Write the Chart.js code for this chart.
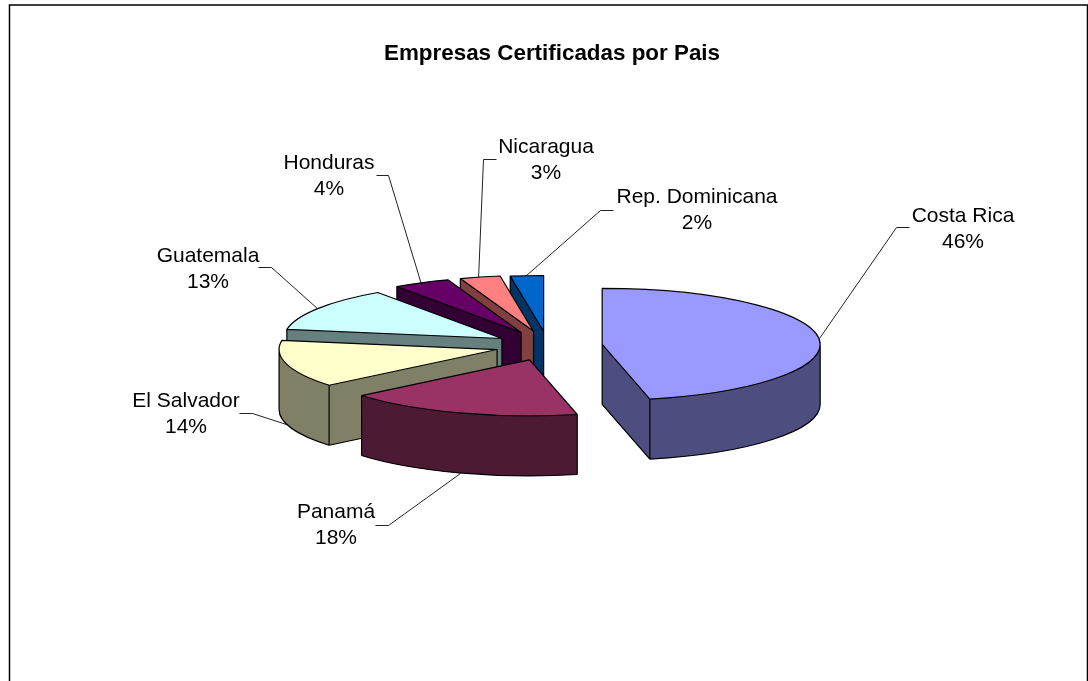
<!DOCTYPE html>
<html>
<head>
<meta charset="utf-8">
<style>html,body{margin:0;padding:0;background:#fff}canvas{display:block}</style>
<script src="https://cdn.jsdelivr.net/npm/chart.js@4/dist/chart.umd.min.js"></script>
</head>
<body>
<canvas id="c" width="1088" height="681"></canvas>
<script>
const chartTitle = 'Empresas Certificadas por Pais';
const countries = ['Costa Rica', 'Panamá', 'El Salvador', 'Guatemala', 'Honduras', 'Nicaragua', 'Rep. Dominicana'];
const shares = [46.49, 17.51, 13.6, 12.75, 4.2, 3, 2.45];

const topColors = ['#9999FF', '#993366', '#FFFFCC', '#CCFFFF', '#660066', '#FF8080', '#0066CC'];
const sideColors = ['#4D4D80', '#4D1A33', '#808066', '#668080', '#330033', '#804040', '#003366'];

const pie3d = { cx: 548, cy: 346, rx: 218, ry: 56, depth: 60 };
const explodeBy = [0.25, 0.2615, 0.242, 0.25, 0.27, 0.27, 0.26];
const paintOrder = [0, 6, 5, 4, 3, 2, 1];
const FONT = '"Liberation Sans", Arial, sans-serif';

// label centre x, first baseline y, leader polyline (one entry per country)
const labelX = [963, 336, 186, 208, 329, 546, 697];
const labelY = [222, 518, 407, 262, 169, 153, 203];
const leaders = [
  [[819, 338], [896, 227], [909, 227]],
  [[460, 473], [388, 525], [375, 525]],
  [[286, 424], [252, 413], [239, 413]],
  [[318, 309], [271, 267], [258, 267]],
  [[421, 284], [388, 175], [376, 175]],
  [[478, 279], [483, 159], [496, 159]],
  [[525, 276], [600, 210], [613, 210]]
];

const pie3dPlugin = {
  id: 'pie3d',
  beforeDraw(chart) {
    const ctx = chart.ctx;
    ctx.save();
    ctx.strokeStyle = '#000';
    ctx.lineWidth = 1.5;
    ctx.beginPath();
    ctx.moveTo(9.5, 700);
    ctx.lineTo(9.5, 5);
    ctx.lineTo(1087.5, 5);
    ctx.lineTo(1087.5, 700);
    ctx.stroke();
    ctx.restore();
  },
  beforeDatasetsDraw(chart) {
    const ctx = chart.ctx;
    const arcs = chart.getDatasetMeta(0).data;
    const total = shares.reduce((a, b) => a + b, 0);
    const P = pie3d;

    // leaders go under the pie
    ctx.save();
    ctx.strokeStyle = '#222';
    ctx.lineWidth = 1;
    leaders.forEach(l => {
      ctx.beginPath();
      l.forEach((p, i) => i ? ctx.lineTo(p[0] + .5, p[1] + .5) : ctx.moveTo(p[0] + .5, p[1] + .5));
      ctx.stroke();
    });
    ctx.restore();

    paintOrder.forEach(i => {
      const arc = arcs[i];
      const a = arc.startAngle, b = arc.endAngle, mid = (a + b) / 2, R = arc.outerRadius;
      const ax = P.cx + Math.cos(mid) * explodeBy[i] * P.rx;
      const ay = P.cy + Math.sin(mid) * explodeBy[i] * P.ry;
      const layer = (el, shift) => {
        ctx.save();
        ctx.translate(ax, ay + shift);
        ctx.scale(P.rx / R, P.ry / R);
        ctx.translate(-arc.x, -arc.y);
        el.draw(ctx);
        ctx.restore();
      };
      const side = Object.create(arc);
      side.options = Object.assign({}, arc.options, { backgroundColor: sideColors[i], borderWidth: 0 });
      for (let d = P.depth; d >= 1; d--) layer(side, d);

      const px = t => ax + P.rx * Math.cos(t), py = t => ay + P.ry * Math.sin(t);
      const vert = (x, y) => { ctx.moveTo(x, y); ctx.lineTo(x, y + P.depth); };
      const w0 = Math.max(a, 0), w1 = Math.min(b, Math.PI);
      const startVisible = Math.cos(a) < -1e-6, endVisible = Math.cos(b) > 1e-6;

      // solid fill over the layered wall and cut faces, so no stripes remain
      ctx.save();
      ctx.fillStyle = sideColors[i];
      if (w1 > w0) {
        ctx.beginPath();
        ctx.ellipse(ax, ay, P.rx, P.ry, 0, w0, w1);
        ctx.ellipse(ax, ay + P.depth, P.rx, P.ry, 0, w1, w0, true);
        ctx.closePath();
        ctx.fill();
      }
      const face = t => {
        ctx.beginPath();
        ctx.moveTo(ax, ay);
        ctx.lineTo(px(t), py(t));
        ctx.lineTo(px(t), py(t) + P.depth);
        ctx.lineTo(ax, ay + P.depth);
        ctx.closePath();
        ctx.fill();
      };
      if (startVisible) face(a);
      if (endVisible) face(b);
      ctx.restore();

      layer(arc, 0);

      ctx.save();
      ctx.strokeStyle = '#000';
      ctx.lineWidth = 1.2;
      ctx.lineJoin = 'round';
      // top face outline
      ctx.beginPath();
      ctx.moveTo(ax, ay);
      ctx.ellipse(ax, ay, P.rx, P.ry, 0, a, b);
      ctx.closePath();
      // outer wall
      if (w1 > w0) {
        ctx.moveTo(px(w0), py(w0) + P.depth);
        ctx.ellipse(ax, ay + P.depth, P.rx, P.ry, 0, w0, w1);
        vert(px(w0), py(w0));
        vert(px(w1), py(w1));
      }
      // cut faces
      if (startVisible) {
        vert(px(a), py(a));
        ctx.moveTo(px(a), py(a) + P.depth);
        ctx.lineTo(ax, ay + P.depth);
      }
      if (endVisible) {
        vert(px(b), py(b));
        ctx.moveTo(px(b), py(b) + P.depth);
        ctx.lineTo(ax, ay + P.depth);
      }
      if (startVisible || endVisible) vert(ax, ay);
      ctx.stroke();
      ctx.restore();
    });

    // data labels
    ctx.save();
    ctx.fillStyle = '#000';
    ctx.font = '21px ' + FONT;
    ctx.textAlign = 'center';
    ctx.textBaseline = 'alphabetic';
    countries.forEach((name, i) => {
      ctx.fillText(name, labelX[i], labelY[i]);
      ctx.fillText(Math.round(shares[i] / total * 100) + '%', labelX[i], labelY[i] + 26);
    });
    ctx.restore();
    return false;
  }
};

new Chart(document.getElementById('c'), {
  type: 'pie',
  data: {
    labels: countries,
    datasets: [{ data: shares, backgroundColor: topColors, borderWidth: 0 }]
  },
  options: {
    responsive: false,
    animation: false,
    layout: { padding: { left: 16, top: 0, right: 0, bottom: 0 } },
    plugins: {
      legend: { display: false },
      tooltip: { enabled: false },
      title: {
        display: true,
        text: chartTitle,
        color: '#000',
        font: { family: FONT, size: 22.4, weight: 'bold' },
        padding: { top: 40, bottom: 10 }
      }
    }
  },
  plugins: [pie3dPlugin]
});
</script>
</body>
</html>
